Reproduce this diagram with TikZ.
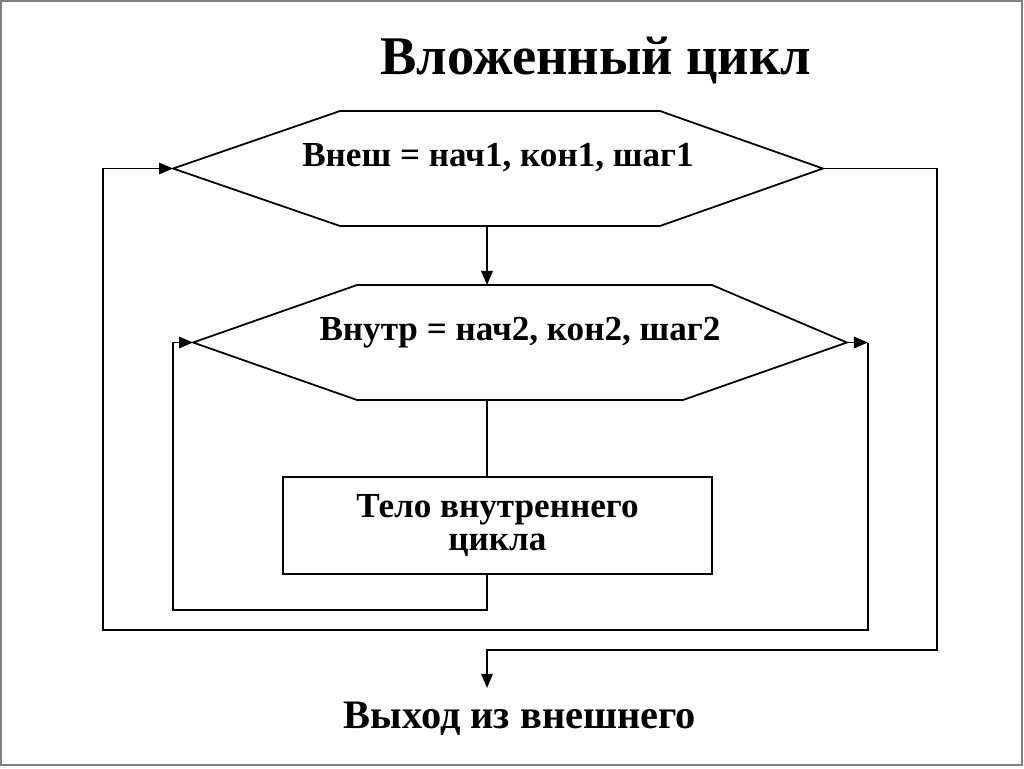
\documentclass[tikz,border=0pt]{standalone}
\usepackage{fontspec}
\setmainfont{Liberation Serif}
\usetikzlibrary{arrows.meta,positioning}
\definecolor{frame}{HTML}{808080}

\begin{document}
\begin{tikzpicture}[x=0.02cm,y=-0.02cm,>={Triangle[length=8pt,width=6.5pt]},line width=1pt,
 hex/.style={inner sep=0pt,outer sep=0pt,minimum height=2.3cm,
 font=\fontsize{20}{22}\selectfont\bfseries,text height=0.4cm,text depth=0.48cm},
 box/.style={draw,minimum width=8.58cm,minimum height=1.94cm,align=center,
 font=\fontsize{20}{19}\selectfont\bfseries},
 lbl/.style={font=\fontsize{23}{26}\selectfont\bfseries}]
\useasboundingbox (0,0) rectangle (1024,768);
\draw[frame,line width=1.5pt] (1,1) rectangle (1022,765);
\node[font=\fontsize{31}{34}\selectfont\bfseries] (title) at (596,60) {Вложенный цикл};
\node[hex,minimum width=13cm] (outer) at (498,168.5) {Внеш = нач1, кон1, шаг1};
\node[hex,minimum width=13.08cm] (inner) at (520,342.5) {Внутр = нач2, кон2, шаг2};
\node[box] (body) at (497.5,525.5) {Тело внутреннего\\цикла};
\node[lbl] (exit) at (520,719) {Выход из внешнего};
% outlines of the two loop headers
\draw (outer.west) -- ([xshift=3.34cm]outer.north west) -- ([xshift=-3.26cm]outer.north east)
 -- (outer.east) -- ([xshift=-3.26cm]outer.south east) -- ([xshift=3.34cm]outer.south west) -- cycle;
\draw (inner.west) -- ([xshift=3.28cm]inner.north west) -- ([xshift=-2.7cm]inner.north east)
 -- (inner.east) -- ([xshift=-3.28cm]inner.south east) -- ([xshift=3.28cm]inner.south west) -- cycle;
\coordinate (spine) at (487,0);
\coordinate (innerleft) at (173,610);
\coordinate (innerright) at (868,342.5);
\coordinate (outerleft) at (103,630);
\coordinate (outerright) at (937,650);
\coordinate (exitin) at (487,688);
\draw[->] (outer.south -| spine) -- (inner.north -| spine);
\draw (inner.south -| spine) -- (body.north -| spine);
\draw[->] (body.south -| spine) |- (innerleft) |- (inner.west);
\draw[->] (inner.east) -- (innerright);
\draw[->] (innerright) |- (outerleft) |- (outer.west);
\draw[->] (outer.east) -| (outerright) -| (exitin);
\end{tikzpicture}
\end{document}
